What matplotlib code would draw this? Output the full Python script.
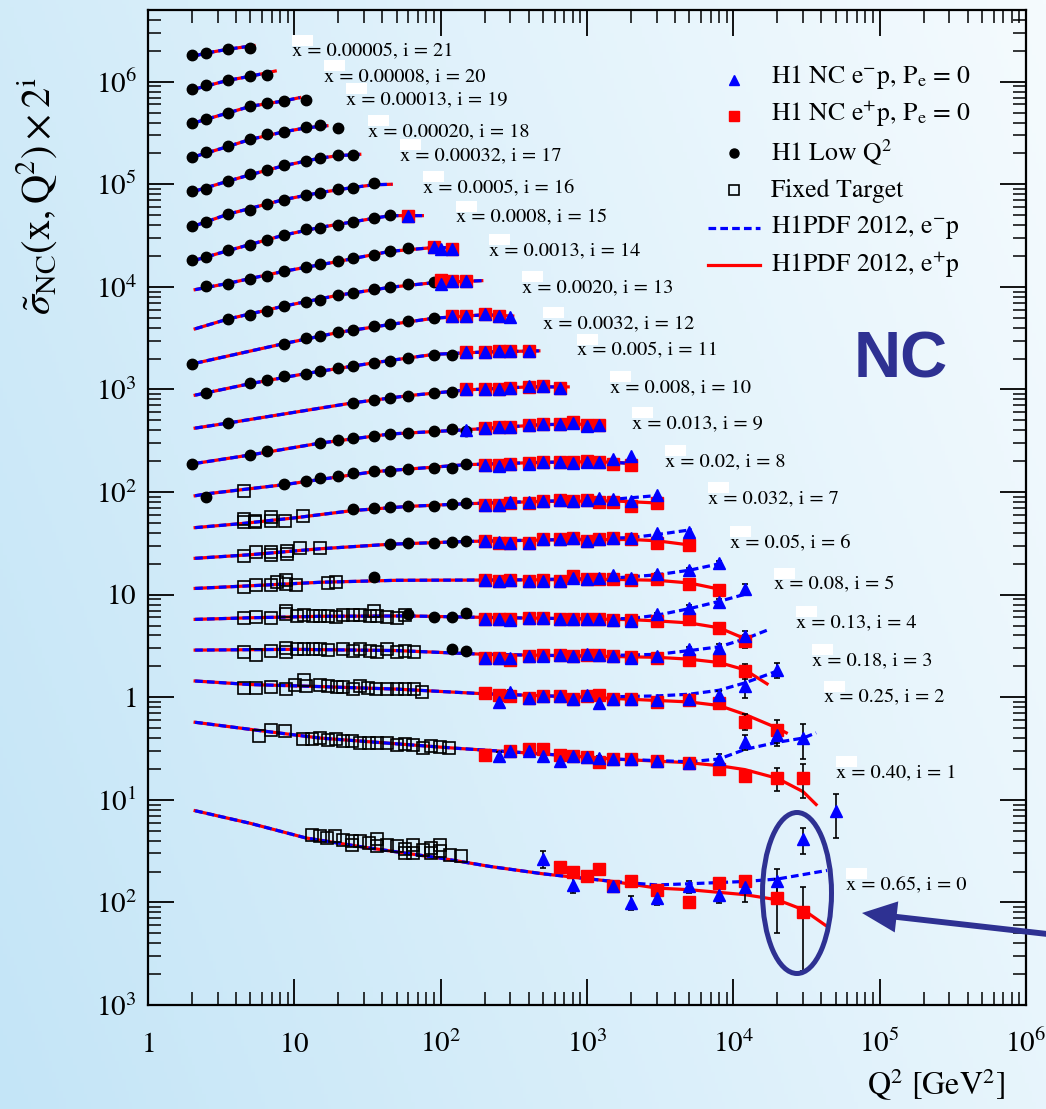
import numpy as np
import matplotlib
matplotlib.use('Agg')
import matplotlib.pyplot as plt
from matplotlib.lines import Line2D
from matplotlib.patches import Ellipse, Rectangle, FancyArrowPatch
from matplotlib.ticker import LogLocator, NullFormatter

plt.rcParams['font.family'] = 'STIXGeneral'
plt.rcParams['mathtext.fontset'] = 'stix'

W, H = 1046, 1109
NAVY = '#2e3192'

# x value of every bin, index = i (sigma is scaled by 2^i)
bin_x = ['0.65', '0.40', '0.25', '0.18', '0.13', '0.08', '0.05', '0.032', '0.02', '0.013',
         '0.008', '0.005', '0.0032', '0.0020', '0.0013', '0.0008', '0.0005', '0.00032',
         '0.00020', '0.00013', '0.00008', '0.00005']

# fixed target data (open squares)
ft_q2 = {
    8: [4.5],
    7: [4.5, 4.5, 5.4, 5.4, 6.9, 6.9, 8.6, 11.4],
    6: [4.5, 5.5, 6.9, 6.9, 8.9, 8.9, 11, 15],
    5: [4.5, 5.5, 6.9, 7.6, 8.8, 8.8, 10.3, 17, 19.3],
    4: [4.5, 5.5, 6.9, 8.8, 8.8, 10.4, 11.6, 13.4, 15, 17, 19.3, 21.5, 25, 28, 33, 35, 37, 43, 50, 57],
    3: [4.5, 5.5, 6.9, 8.8, 8.8, 10.4, 11.6, 13.4, 15, 17, 21.5, 25, 28, 33, 37, 43, 50, 57, 66],
    2: [4.5, 5.5, 6.9, 8.8, 10.1, 11.7, 12, 15, 17, 19.5, 21.5, 25, 28, 32, 36, 43, 50, 57, 66, 74],
    1: [5.7, 6.9, 8.6, 11.4, 13.2, 15, 17, 19.3, 21.5, 24.8, 28, 32.4, 37, 43, 50, 57, 65, 76, 86, 99, 114],
    0: [13.2, 15, 16.7, 19, 21.5, 24.8, 24.8, 28, 32.4, 37, 37, 43, 50, 57, 57, 65, 65, 76, 86, 86,
        99, 99, 116, 138],
}
ft_sig = {
    8: [103],
    7: [50.6, 54.5, 52.4, 50.6, 51.7, 56.6, 51.7, 57.9],
    6: [23.9, 25.8, 24.4, 25.8, 24.8, 26.7, 28.2, 28.2],
    5: [11.9, 12.4, 12.4, 13.3, 13.8, 12.6, 12.4, 13.1, 13.4],
    4: [5.97, 6.05, 5.88, 6.43, 6.92, 6.19, 6.29, 6.19, 6.19, 6.19, 6.05, 6.29, 6.33, 6.29, 6.19,
        6.92, 6.19, 6.11, 5.97, 6.29],
    3: [2.76, 2.56, 2.82, 3.04, 2.76, 2.97, 2.93, 2.93, 2.97, 2.88, 2.97, 2.82, 2.97, 2.82, 2.76,
        2.93, 2.76, 2.82, 2.76],
    2: [1.24, 1.24, 1.25, 1.19, 1.31, 1.46, 1.28, 1.33, 1.28, 1.25, 1.25, 1.19, 1.28, 1.24, 1.19,
        1.19, 1.19, 1.19, 1.19, 1.13],
    1: [0.417, 0.484, 0.473, 0.393, 0.393, 0.40, 0.386, 0.393, 0.372, 0.372, 0.359, 0.362, 0.359,
        0.359, 0.346, 0.350, 0.340, 0.321, 0.337, 0.327, 0.321],
    0: [0.0457, 0.0440, 0.0424, 0.0440, 0.0408, 0.0393, 0.0359, 0.0393, 0.0379, 0.0415, 0.0351,
        0.0359, 0.0351, 0.0333, 0.0303, 0.0365, 0.0303, 0.0321, 0.0339, 0.0303, 0.0359, 0.0314,
        0.0287, 0.0281],
}

# H1 low Q2 (black dots)
low_q2 = {
    21: [2, 2.5, 3.5, 5],
    20: [2, 2.5, 3.5, 5, 6.5],
    19: [2, 2.5, 3.5, 5, 6.5, 8.5, 12],
    18: [2, 2.5, 3.5, 5, 6.5, 8.5, 12, 15, 20],
    17: [2, 2.5, 3.5, 5, 6.5, 8.5, 12, 15, 20, 25],
    16: [2, 2.5, 3.5, 5, 6.5, 8.5, 12, 15, 20, 25, 35],
    15: [2, 2.5, 3.5, 5, 6.5, 8.5, 12, 15, 20, 25, 35, 45],
    14: [2.5, 3.5, 5, 6.5, 8.5, 12, 15, 20, 25, 35, 45, 60],
    13: [3.5, 5, 6.5, 8.5, 12, 15, 20, 25, 35, 45, 60, 90],
    12: [2, 8.5, 12, 15, 20, 25, 35, 45, 60, 90],
    11: [2.5, 5, 6.5, 8.5, 12, 15, 20, 25, 35, 45, 60, 90, 120],
    10: [3.5, 25, 35, 45, 60, 90, 120],
    9: [2, 5, 6.5, 15, 20, 25, 35, 45, 60, 90, 120, 150],
    8: [2.5, 8.5, 12, 15, 20, 25, 35, 45, 60, 90, 120, 150],
    7: [25, 35, 45, 60, 90, 120, 150],
    6: [45, 60, 90, 120, 150],
    5: [35],
    4: [60, 90, 120, 150],
    3: [120, 150],
}
low_sig = {
    21: [1.82e6, 1.92e6, 2.08e6, 2.12e6],
    20: [8.41e5, 9.27e5, 1.04e6, 1.13e6, 1.15e6],
    19: [3.98e5, 4.32e5, 4.99e5, 5.78e5, 6.15e5, 6.47e5, 6.62e5],
    18: [1.85e5, 2.07e5, 2.35e5, 2.75e5, 3.06e5, 3.20e5, 3.58e5, 3.77e5, 3.56e5],
    17: [8.55e4, 9.08e4, 1.08e5, 1.25e5, 1.37e5, 1.53e5, 1.69e5, 1.82e5, 1.91e5, 1.92e5],
    16: [3.93e4, 4.30e4, 5.18e4, 5.66e4, 6.38e4, 7.10e4, 7.82e4, 8.30e4, 8.95e4, 9.29e4, 1.04e5],
    15: [1.81e4, 1.95e4, 2.27e4, 2.54e4, 2.89e4, 3.23e4, 3.64e4, 3.78e4, 3.98e4, 4.30e4, 4.73e4, 4.99e4],
    14: [1.02e4, 1.07e4, 1.20e4, 1.29e4, 1.42e4, 1.56e4, 1.66e4, 1.77e4, 1.91e4, 2.06e4, 2.24e4, 2.40e4],
    13: [4.89e3, 5.35e3, 5.81e3, 6.50e3, 7.11e3, 7.38e3, 8.26e3, 8.77e3, 9.44e3, 9.98e3, 1.06e4, 1.11e4],
    12: [1.78e3, 2.79e3, 3.19e3, 3.31e3, 3.62e3, 3.82e3, 4.15e3, 4.30e3, 4.60e3, 4.97e3],
    11: [925, 1150, 1250, 1340, 1420, 1530, 1620, 1690, 1820, 1910, 2030, 2190, 2190],
    10: [468, 739, 797, 828, 872, 926, 942],
    9: [188, 231, 253, 301, 322, 336, 354, 368, 377, 396, 412, 396],
    8: [88.7, 120, 127, 137, 144, 152, 159, 159, 168, 171, 171, 188],
    7: [68.2, 69.7, 70.8, 73.4, 73.4, 76.3, 78.0],
    6: [31.5, 32.2, 32.2, 32.7, 33.0],
    5: [14.7],
    4: [6.43, 6.11, 6.11, 6.58],
    3: [2.93, 2.82],
}

# H1 NC e-p (blue triangles)
em_q2 = {
    15: [60],
    14: [90, 100, 120],
    13: [100, 120, 150],
    12: [120, 150, 200, 250, 300],
    11: [150, 200, 250, 300, 400],
    10: [150, 200, 250, 300, 400, 500, 650],
    9: [150, 200, 250, 300, 400, 500, 650, 800, 1000, 1200],
    8: [200, 250, 300, 400, 500, 650, 800, 1000, 1200, 1500, 2000],
    7: [200, 250, 300, 400, 500, 650, 800, 1000, 1200, 1500, 2000, 3000],
    6: [200, 250, 300, 400, 500, 650, 800, 1000, 1200, 1500, 2000, 3000, 5000],
    5: [200, 250, 300, 400, 500, 650, 800, 1000, 1200, 1500, 2000, 3000, 5000, 8000],
    4: [200, 250, 300, 400, 500, 650, 800, 1000, 1200, 1500, 2000, 3000, 5000, 8000, 12000],
    3: [200, 250, 300, 400, 500, 650, 800, 1000, 1200, 1500, 2000, 3000, 5000, 8000, 12000],
    2: [250, 300, 400, 500, 650, 800, 1000, 1200, 1500, 2000, 3000, 5000, 8000, 12000, 20000],
    1: [250, 300, 400, 500, 650, 800, 1000, 1200, 1500, 2000, 3000, 5000, 8000, 12000, 20000, 30000],
    0: [500, 800, 1500, 2000, 3000, 5000, 8000, 12000, 20000, 30000, 50000],
}
em_sig = {
    15: [4.92e4],
    14: [2.45e4, 2.36e4, 2.36e4],
    13: [1.07e4, 1.13e4, 1.14e4],
    12: [5.2e3, 5.2e3, 5.39e3, 5.26e3, 5.08e3],
    11: [2310, 2310, 2370, 2380, 2380],
    10: [1000, 1000, 1010, 1035, 1070, 1090, 1030],
    9: [403, 419, 429, 429, 451, 461, 461, 470, 444, 454],
    8: [183, 180, 188, 188, 195, 198, 192, 198, 198, 210, 223],
    7: [74.6, 74.6, 79.3, 79.3, 82.2, 84.1, 82.2, 84.1, 86.8, 85.4, 82.2, 93.3],
    6: [33.4, 32.5, 31.8, 32.0, 34.8, 34.8, 35.6, 33.4, 34.8, 35.6, 35.6, 39.8, 41.0],
    5: [13.9, 13.6, 13.9, 13.6, 13.6, 13.6, 14.5, 14.1, 14.4, 15.5, 14.4, 15.8, 17.4, 20.2],
    4: [5.83, 5.74, 5.70, 5.88, 5.97, 5.74, 5.74, 5.74, 5.74, 5.65, 5.53, 6.43, 7.48, 8.48, 11.3],
    3: [2.43, 2.43, 2.40, 2.52, 2.52, 2.56, 2.52, 2.62, 2.56, 2.52, 2.43, 2.52, 2.97, 3.04, 3.95],
    2: [0.895, 1.12, 0.99, 1.03, 1.03, 0.967, 1.06, 0.88, 0.967, 0.967, 0.936, 0.967, 1.06, 1.28, 1.84],
    1: [0.27, 0.30, 0.30, 0.27, 0.238, 0.265, 0.26, 0.254, 0.25, 0.25, 0.238, 0.23, 0.25, 0.364,
        0.433, 0.40],
    0: [0.0266, 0.0148, 0.0145, 0.00997, 0.0110, 0.0143, 0.0119, 0.0141, 0.0160, 0.0415, 0.0783],
}
em_err = {
    5: [0.3, 0.3, 0.3, 0.3, 0.3, 0.3, 0.3, 0.3, 0.3, 0.3, 0.3, 0.5, 0.8, 1.2],
    4: [0.15, 0.15, 0.15, 0.15, 0.15, 0.15, 0.15, 0.15, 0.15, 0.15, 0.15, 0.25, 0.4, 0.6, 1.4],
    3: [0.08, 0.08, 0.08, 0.08, 0.08, 0.08, 0.08, 0.08, 0.08, 0.08, 0.08, 0.1, 0.15, 0.25, 0.5],
    2: [0.05, 0.05, 0.04, 0.04, 0.04, 0.04, 0.04, 0.04, 0.04, 0.04, 0.05, 0.06, 0.1, 0.3, 0.3],
    1: [0.02, 0.02, 0.015, 0.015, 0.015, 0.015, 0.015, 0.015, 0.015, 0.015, 0.015, 0.02, 0.03,
        0.06, 0.1, 0.15],
    0: [0.005, 0.0025, 0.0015, 0.0015, 0.0015, 0.002, 0.002, 0.004, 0.005, 0.012, 0.036],
}

# H1 NC e+p (red squares)
ep_q2 = {
    15: [60],
    14: [90, 120],
    13: [100, 120, 150],
    12: [120, 150, 200, 250],
    11: [150, 200, 250, 300, 400],
    10: [150, 200, 250, 300, 400, 500, 650],
    9: [200, 250, 300, 400, 500, 650, 800, 1000, 1200],
    8: [200, 250, 300, 400, 500, 650, 800, 1000, 1200, 1500, 2000],
    7: [200, 250, 300, 400, 500, 650, 800, 1000, 1200, 1500, 2000, 3000],
    6: [200, 250, 300, 400, 500, 650, 800, 1000, 1200, 1500, 2000, 3000, 5000],
    5: [200, 250, 300, 400, 500, 650, 800, 1000, 1200, 1500, 2000, 3000, 5000, 8000],
    4: [200, 250, 300, 400, 500, 650, 800, 1000, 1200, 1500, 2000, 3000, 5000, 8000, 12000],
    3: [200, 250, 300, 400, 500, 650, 800, 1000, 1200, 1500, 2000, 3000, 5000, 8000, 12000],
    2: [200, 250, 300, 400, 500, 650, 800, 1000, 1200, 1500, 2000, 3000, 5000, 8000, 12000, 20000],
    1: [200, 300, 400, 500, 650, 800, 1000, 1200, 1500, 2000, 3000, 5000, 8000, 12000, 20000, 30000],
    0: [650, 800, 1000, 1200, 1500, 2000, 3000, 5000, 8000, 12000, 20000, 30000],
}
ep_sig = {
    15: [4.92e4],
    14: [2.45e4, 2.36e4],
    13: [1.17e4, 1.13e4, 1.14e4],
    12: [5.2e3, 5.2e3, 5.39e3, 5.26e3],
    11: [2310, 2310, 2370, 2380, 2380],
    10: [1000, 1000, 1010, 1035, 1060, 1090, 1040],
    9: [419, 429, 429, 451, 461, 461, 486, 450, 455],
    8: [185, 182, 188, 190, 195, 198, 195, 200, 198, 188, 183],
    7: [75, 75, 79, 79, 82, 84, 82, 84, 79.3, 79.3, 73.5, 78.0],
    6: [33.4, 32.2, 32.0, 31.8, 34.5, 34.8, 35.4, 33.6, 34.6, 35.4, 35.0, 31.8, 30.3],
    5: [13.9, 13.6, 13.9, 13.6, 13.8, 13.6, 15.2, 14.1, 14.2, 14.1, 14.0, 14.1, 12.6, 11.2],
    4: [5.83, 5.80, 5.74, 5.88, 5.97, 5.74, 5.74, 5.80, 5.74, 5.65, 5.70, 5.53, 5.74, 4.76, 3.55],
    3: [2.43, 2.43, 2.33, 2.52, 2.56, 2.56, 2.52, 2.56, 2.56, 2.52, 2.48, 2.43, 2.30, 2.30, 1.79],
    2: [1.09, 1.06, 1.03, 0.99, 1.03, 1.03, 0.967, 1.03, 1.04, 0.967, 0.967, 0.895, 0.936, 0.87,
        0.58, 0.48],
    1: [0.276, 0.30, 0.31, 0.314, 0.276, 0.265, 0.26, 0.235, 0.25, 0.25, 0.238, 0.23, 0.20, 0.172,
        0.162, 0.165],
    0: [0.0221, 0.0196, 0.0182, 0.0211, 0.0145, 0.0160, 0.0133, 0.0102, 0.0154, 0.0160, 0.0110, 0.00815],
}
ep_err = {
    5: [0.3, 0.3, 0.3, 0.3, 0.3, 0.3, 0.3, 0.3, 0.3, 0.3, 0.3, 0.5, 0.9, 0.9],
    4: [0.12, 0.12, 0.12, 0.12, 0.12, 0.12, 0.12, 0.12, 0.12, 0.12, 0.12, 0.2, 0.3, 0.4, 0.5],
    3: [0.07, 0.07, 0.07, 0.07, 0.07, 0.07, 0.07, 0.07, 0.07, 0.07, 0.07, 0.08, 0.1, 0.15, 0.3],
    2: [0.04, 0.04, 0.04, 0.04, 0.04, 0.04, 0.04, 0.04, 0.04, 0.04, 0.04, 0.04, 0.05, 0.08, 0.1, 0.12],
    1: [0.015, 0.015, 0.015, 0.015, 0.015, 0.015, 0.015, 0.015, 0.015, 0.015, 0.015, 0.015, 0.02,
        0.02, 0.04, 0.06],
    0: [0.002, 0.0015, 0.0015, 0.002, 0.001, 0.0012, 0.001, 0.001, 0.0015, 0.0015, 0.006, 0.006],
}

# H1PDF 2012 prediction, e+p (identical to e-p unless listed in fit_em)
fit_q2 = {
    21: [2.1, 2.5, 3.5, 5.3],
    20: [2.1, 3.5, 5, 7.4],
    19: [2.1, 3.5, 5, 8.5, 10.9],
    18: [2.1, 3.5, 5, 8.5, 12, 16.7],
    17: [2.1, 3.5, 5, 8.5, 15, 20, 28],
    16: [2.1, 3.5, 8.5, 15, 25, 35, 46],
    15: [2.1, 3.5, 8.5, 15, 25, 45, 75],
    14: [2.1, 3.5, 8.5, 20, 45, 90, 129],
    13: [2.1, 3.5, 8.5, 20, 45, 90, 191],
    12: [2.1, 8.5, 20, 45, 90, 200, 311],
    11: [2.1, 5, 12, 35, 90, 200, 469],
    10: [2.1, 3.5, 25, 60, 150, 400, 744],
    9: [2.1, 5, 15, 45, 150, 500, 1290],
    8: [2.1, 2.5, 8.5, 35, 150, 500, 1200, 2070],
    7: [2.1, 4.5, 10, 25, 60, 150, 500, 1500, 3160],
    6: [2.1, 5, 15, 45, 150, 600, 2000, 3000, 5200],
    5: [2.1, 5, 15, 50, 300, 1500, 3000, 5000, 8300],
    4: [2.1, 5, 15, 60, 200, 1000, 2000, 3000, 5000, 8000, 12700],
    3: [2.1, 10, 50, 200, 1000, 3000, 5000, 8000, 12000, 17000],
    2: [2.1, 5, 15, 50, 200, 1000, 3000, 5000, 8000, 12000, 20000, 23000],
    1: [2.1, 6, 15, 40, 120, 500, 1500, 5000, 8000, 12000, 20000, 30000, 36800],
    0: [2.1, 5, 12, 30, 100, 218, 500, 1500, 3000, 5000, 12000, 20000, 30000, 42500],
}
fit_ep = {
    21: [1.79e6, 1.90e6, 2.07e6, 2.25e6],
    20: [8.5e5, 1.03e6, 1.13e6, 1.27e6],
    19: [4.0e5, 4.95e5, 5.75e5, 6.5e5, 7.0e5],
    18: [1.87e5, 2.33e5, 2.74e5, 3.25e5, 3.55e5, 3.72e5],
    17: [8.6e4, 1.07e5, 1.24e5, 1.52e5, 1.80e5, 1.90e5, 1.96e5],
    16: [3.95e4, 5.1e4, 7.1e4, 8.3e4, 9.3e4, 9.9e4, 1.0e5],
    15: [1.82e4, 2.25e4, 3.2e4, 3.8e4, 4.3e4, 4.95e4, 4.95e4],
    14: [9.4e3, 1.08e4, 1.42e4, 1.77e4, 2.22e4, 2.42e4, 2.40e4],
    13: [3.9e3, 4.85e3, 6.5e3, 8.3e3, 9.9e3, 1.1e4, 1.15e4],
    12: [1.8e3, 2.8e3, 3.6e3, 4.3e3, 4.95e3, 5.35e3, 5.2e3],
    11: [880, 1140, 1430, 1820, 2200, 2320, 2380],
    10: [420, 470, 740, 870, 990, 1060, 1060],
    9: [190, 230, 300, 368, 405, 455, 460],
    8: [92, 96, 118, 158, 185, 195, 198, 190],
    7: [45, 49.5, 56, 66, 72.5, 77, 81, 82, 78],
    6: [22.6, 24.5, 28, 31, 33, 34.2, 34.5, 33.5, 30.3],
    5: [11.5, 12.2, 13.2, 13.8, 13.9, 14.1, 13.8, 13.0, 11.2],
    4: [5.74, 5.95, 6.15, 6.2, 6.0, 5.8, 5.7, 5.55, 5.3, 4.75, 3.6],
    3: [2.88, 2.93, 2.85, 2.62, 2.52, 2.45, 2.35, 2.18, 1.85, 1.35],
    2: [1.44, 1.33, 1.27, 1.2, 1.08, 1.0, 0.93, 0.9, 0.83, 0.68, 0.5, 0.45],
    1: [0.57, 0.47, 0.40, 0.36, 0.32, 0.28, 0.25, 0.23, 0.215, 0.197, 0.162, 0.12, 0.09],
    0: [0.0783, 0.059, 0.0425, 0.0345, 0.027, 0.0224, 0.019, 0.0160, 0.0138, 0.0133, 0.0119,
        0.0106, 0.0085, 0.0060],
}
fit_em_q2 = {
    7: [2.1, 4.5, 10, 25, 60, 150, 500, 1500, 3160],
    6: [2.1, 5, 15, 45, 150, 600, 2000, 3000, 5200],
    5: [2.1, 5, 15, 50, 300, 1500, 3000, 5000, 8300],
    4: [2.1, 5, 15, 60, 200, 1000, 2000, 3000, 5000, 8000, 12700],
    3: [2.1, 10, 50, 200, 1000, 3000, 5000, 8000, 12000, 17000],
    2: [2.1, 5, 15, 50, 200, 1000, 3000, 5000, 8000, 12000, 21000],
    1: [2.1, 6, 15, 40, 120, 500, 1500, 5000, 8000, 12000, 20000, 30000, 36800],
    0: [2.1, 5, 12, 30, 100, 218, 500, 1500, 3000, 5000, 12000, 20000, 43700],
}
fit_em = {
    7: [45, 49.5, 56, 66, 72.5, 77, 81.5, 85, 93],
    6: [22.6, 24.5, 28, 31, 33, 34.3, 36, 38.5, 43],
    5: [11.5, 12.2, 13.2, 13.8, 13.9, 14.5, 15.6, 17.3, 20.2],
    4: [5.74, 5.95, 6.15, 6.2, 6.0, 5.8, 5.85, 6.3, 7.3, 8.6, 10.3],
    3: [2.88, 2.93, 2.85, 2.62, 2.52, 2.62, 2.85, 3.1, 3.7, 4.5],
    2: [1.44, 1.33, 1.27, 1.2, 1.08, 1.0, 1.03, 1.07, 1.17, 1.38, 1.85],
    1: [0.57, 0.47, 0.40, 0.36, 0.32, 0.28, 0.25, 0.235, 0.25, 0.31, 0.364, 0.40, 0.45],
    0: [0.0783, 0.059, 0.0425, 0.0345, 0.027, 0.0224, 0.019, 0.0160, 0.0148, 0.0152, 0.0160,
        0.0169, 0.0205],
}

x_ticks = [1, 10, 1e2, 1e3, 1e4, 1e5, 1e6]
x_tick_labels = ['$1$', '$10$', '$10^{2}$', '$10^{3}$', '$10^{4}$', '$10^{5}$', '$10^{6}$']
y_ticks = [1e-3, 1e-2, 1e-1, 1, 10, 1e2, 1e3, 1e4, 1e5, 1e6]
y_tick_labels = ['$10^{3}$', '$10^{2}$', '$10^{1}$', '$1$', '$10$', '$10^{2}$', '$10^{3}$',
                 '$10^{4}$', '$10^{5}$', '$10^{6}$']

legend_labels = [r'H1 NC e$^{-}$p, P$_{\rm e}$ = 0', r'H1 NC e$^{+}$p, P$_{\rm e}$ = 0',
                 r'H1 Low Q$^{2}$', 'Fixed Target', r'H1PDF 2012, e$^{-}$p', r'H1PDF 2012, e$^{+}$p']

# layout (reference pixels, origin top-left)
label_px = [(846, 889), (836, 777), (824, 702), (812, 665), (796, 627), (774, 589), (730, 547),
            (708, 503), (665, 466), (632, 428), (610, 392), (577, 355), (543, 328), (522, 292),
            (489, 255), (456, 222), (423, 192), (400, 160), (368, 136), (346, 104), (324, 81),
            (292, 56)]


def fx(px):
    return px / W


def fy(py):
    return 1 - py / H


fig = plt.figure(figsize=(W / 100, H / 100), dpi=100)

# light blue gradient background
bg = fig.add_axes([0, 0, 1, 1], zorder=-10)
gx, gy = np.meshgrid(np.linspace(0, 1, 300), np.linspace(0, 1, 300))
t = np.clip(0.72 * gx + 0.28 * gy, 0, 1)[..., None]
c0 = np.array([196, 229, 247]) / 255
c1 = np.array([245, 251, 254]) / 255
bg.imshow(c0 + (c1 - c0) * t, extent=[0, 1, 0, 1], origin='lower', aspect='auto')
bg.axis('off')

ax = fig.add_axes([fx(148), fy(1005), 878 / W, 995 / H])
ax.set_facecolor('none')
ax.set_xscale('log')
ax.set_yscale('log')
ax.set_xlim(1, 1e6)
ax.set_ylim(1e-3, 5e6)

lw_fit = 2.3
for i in range(22):
    ax.plot(fit_q2[i], fit_ep[i], color='red', lw=lw_fit, zorder=2)
    ax.plot(fit_em_q2.get(i, fit_q2[i]), fit_em.get(i, fit_ep[i]), color='blue', lw=lw_fit,
            ls=(0, (2.4, 1.3)), zorder=3)

# error bars sit under the markers so the small ones stay hidden
for i in ep_err:
    ax.errorbar(ep_q2[i], ep_sig[i], yerr=ep_err[i], fmt='none', ecolor='black', elinewidth=1.2,
                capsize=2.5, capthick=1.2, zorder=3.5)
for i in em_err:
    ax.errorbar(em_q2[i], em_sig[i], yerr=em_err[i], fmt='none', ecolor='black', elinewidth=1.2,
                capsize=2.5, capthick=1.2, zorder=3.5)

for i in ft_q2:
    ax.plot(ft_q2[i], ft_sig[i], ls='none', marker='s', ms=8, mfc='none', mec='black', mew=1.2,
            zorder=4)
for i in low_q2:
    ax.plot(low_q2[i], low_sig[i], ls='none', marker='o', ms=7.5, color='black', zorder=5)
for i in ep_q2:
    ax.plot(ep_q2[i], ep_sig[i], ls='none', marker='s', ms=8, color='red', mec='red', zorder=6)
for i in em_q2:
    ax.plot(em_q2[i], em_sig[i], ls='none', marker='^', ms=8.5, color='blue', mec='blue', zorder=7)

# axes style
for sp in ax.spines.values():
    sp.set_linewidth(1.6)
ax.set_xticks(x_ticks, labels=x_tick_labels, fontsize=21, va='baseline')
ax.set_yticks(y_ticks, labels=y_tick_labels, fontsize=21)
ax.xaxis.set_minor_locator(LogLocator(base=10, subs=np.arange(2, 10), numticks=100))
ax.yaxis.set_minor_locator(LogLocator(base=10, subs=np.arange(2, 10), numticks=100))
ax.xaxis.set_minor_formatter(NullFormatter())
ax.yaxis.set_minor_formatter(NullFormatter())
ax.tick_params(which='major', direction='in', length=19, width=1.3, top=True, right=True)
ax.tick_params(which='minor', direction='in', length=9.5, width=1.1, top=True, right=True)
ax.tick_params(axis='x', which='major', pad=34)
ax.tick_params(axis='y', which='major', pad=8)

fig.text(fx(37), fy(196), r'$\tilde{\sigma}_{\mathrm{NC}}(\mathrm{x,Q^{2}})\times 2^{\mathrm{i}}$',
         rotation=90, ha='center', va='center', fontsize=29)
fig.text(fx(1005), fy(1095), r'Q$^{2}$ [GeV$^{2}$]', ha='right', va='baseline', fontsize=23)

# bin labels with the small white patches of the original
for i, (lx, by) in enumerate(label_px):
    fig.add_artist(Rectangle((fx(lx), fy(by - 10)), 21 / W, 11 / H, transform=fig.transFigure,
                             facecolor='white', edgecolor='none', zorder=1))
    fig.text(fx(lx), fy(by), f'x = {bin_x[i]}, i = {i}', ha='left', va='baseline', fontsize=14.7,
             zorder=2)

# legend
leg_marks = [dict(marker='^', color='blue', ms=7),
             dict(marker='s', color='red', ms=6.5),
             dict(marker='o', color='black', ms=6.5),
             dict(marker='s', mfc='none', mec='black', mew=1.2, ms=6.5)]
leg_mark_y = [80, 116, 153, 190]
for kw, y in zip(leg_marks, leg_mark_y):
    fig.add_artist(Line2D([fx(734)], [fy(y)], ls='none', transform=fig.transFigure, **kw))
fig.add_artist(Line2D([fx(708), fx(760)], [fy(228), fy(228)], color='blue', lw=lw_fit,
                      ls=(0, (2.4, 1.3)), transform=fig.transFigure))
fig.add_artist(Line2D([fx(708), fx(760)], [fy(265), fy(265)], color='red', lw=lw_fit,
                      transform=fig.transFigure))
for lab, by in zip(legend_labels, [83, 121, 161, 197, 233, 272]):
    fig.text(fx(771), fy(by), lab, ha='left', va='baseline', fontsize=18.5)

fig.text(fx(901), fy(360), 'NC', fontfamily='Liberation Sans', fontweight='bold', fontsize=47,
         color=NAVY, ha='center', va='center')

# highlighted x = 0.65 region
fig.add_artist(Ellipse((fx(797), fy(893)), 69 / W, 161 / H, transform=fig.transFigure, fill=False,
                       edgecolor=NAVY, lw=3.6, zorder=9))
fig.add_artist(FancyArrowPatch((fx(1065), fy(936)), (fx(862), fy(913)), transform=fig.transFigure,
                               arrowstyle='simple,head_length=1.0,head_width=0.9,tail_width=0.17',
                               mutation_scale=25, color=NAVY, lw=0, shrinkA=0, shrinkB=0, zorder=9))

fig.savefig('out.png', dpi=100)
